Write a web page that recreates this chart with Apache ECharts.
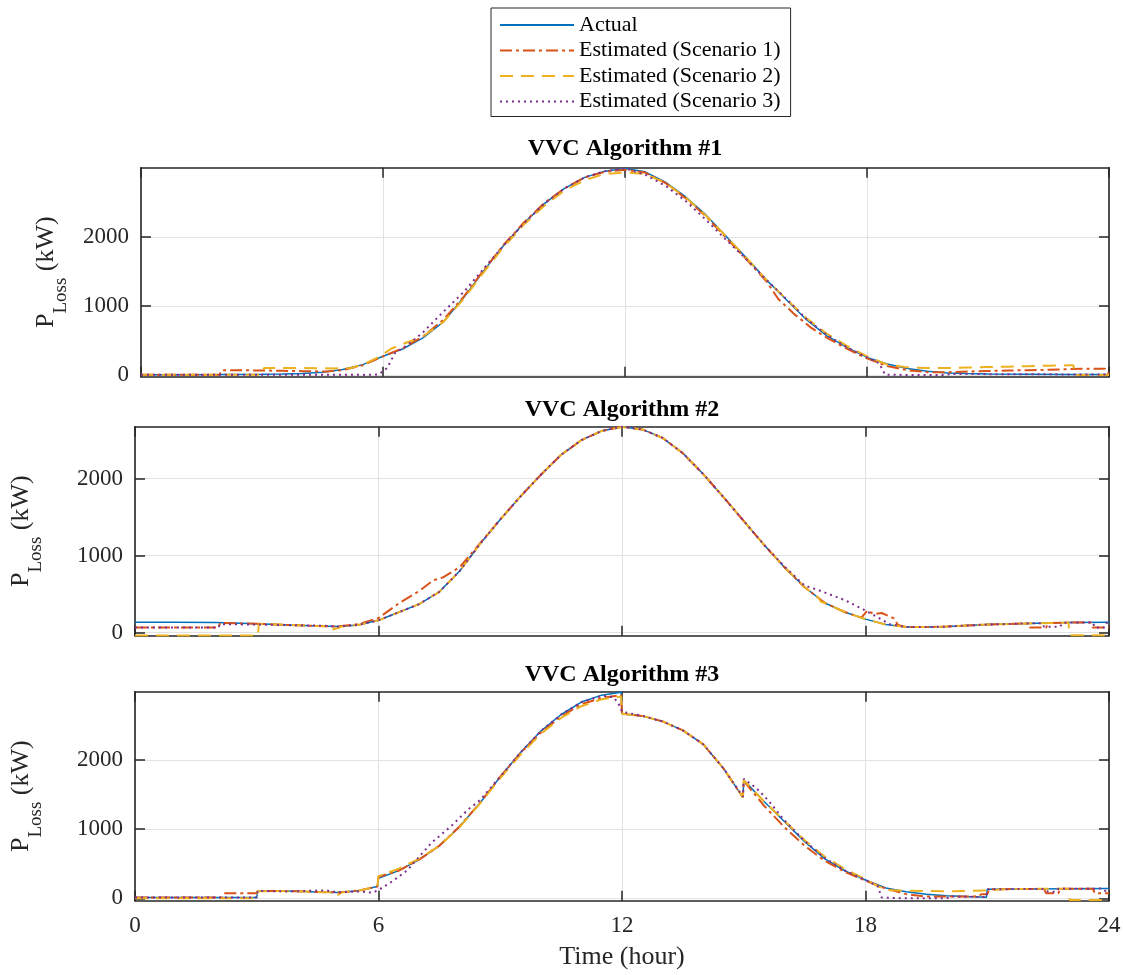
<!DOCTYPE html>
<html>
<head>
<meta charset="utf-8">
<script src="https://cdn.jsdelivr.net/npm/echarts@6/dist/echarts.min.js"></script>
<style>
html,body{margin:0;padding:0;background:#ffffff;}
#chart{width:1123px;height:975px;}
</style>
</head>
<body>
<div id="chart"></div>
<script>
// ---------------- DATA ----------------
const seriesNames = ['Actual', 'Estimated (Scenario 1)', 'Estimated (Scenario 2)', 'Estimated (Scenario 3)'];
const panelTitles = ['VVC Algorithm #1', 'VVC Algorithm #2', 'VVC Algorithm #3'];
const xTickInterval = 6;
const yTickValues = [0, 1000, 2000];
const xAxisTitle = 'Time (hour)';

// Panel 1 : [hour, kW]
const actual1 = [[0,5],[1,5],[2,6],[3,10],[3.5,14],[4,20],[4.5,40],[5,80],[5.5,150],[6,270],[6.5,380],[7,540],[7.5,770],[8,1120],[8.5,1510],[9,1880],[9.5,2200],[10,2480],[10.5,2700],[11,2860],[11.5,2950],[12,2990],[12.5,2940],[13,2790],[13.5,2580],[14,2320],[14.5,2010],[15,1700],[15.5,1380],[16,1090],[16.5,800],[17,570],[17.5,400],[18,255],[18.5,160],[19,95],[19.5,55],[20,30],[20.5,20],[21,14],[22,10],[23,8],[24,8]];
const scen1_1 = [[0,5],[1.95,5],[2,70],[3,65],[3.5,60],[4,55],[4.6,50],[5,70],[5.5,140],[6,270],[6.5,390],[7,560],[7.5,800],[8,1130],[8.5,1520],[9,1890],[9.5,2210],[10,2490],[10.5,2700],[11,2860],[11.5,2940],[12,2970],[12.5,2930],[13,2780],[13.5,2560],[14,2300],[14.5,1990],[15,1680],[15.5,1360],[15.8,1100],[16.2,880],[16.6,690],[17,540],[17.5,380],[18,240],[18.5,130],[19,70],[19.5,40],[20,40],[20.5,50],[21,58],[21.5,65],[22,70],[22.5,75],[23,85],[23.5,90],[23.9,90],[24,10]];
const scen2_1 = [[0,5],[3,5],[3.05,100],[4,100],[4.8,95],[5.2,100],[5.5,150],[5.9,260],[6.2,380],[6.5,450],[7,560],[7.5,770],[8,1100],[8.5,1490],[9,1860],[9.5,2180],[10,2450],[10.5,2670],[11,2820],[11.5,2910],[12,2930],[12.5,2910],[13,2780],[13.5,2570],[14,2310],[14.5,2010],[15,1700],[15.5,1380],[16,1100],[16.5,820],[17,600],[17.5,420],[18,270],[18.5,150],[19,110],[19.5,100],[20,100],[20.5,108],[21,115],[21.5,120],[22,128],[22.5,135],[23,140],[23.12,140],[23.15,0],[24,0]];
const scen3_1 = [[0,5],[5.4,5],[5.6,0],[5.9,10],[6.1,100],[6.3,320],[6.6,430],[7,620],[7.3,800],[7.7,1030],[8,1200],[8.5,1540],[9,1880],[9.5,2200],[10,2480],[10.5,2700],[11,2860],[11.5,2950],[12,2990],[12.5,2900],[13,2740],[13.5,2520],[14,2250],[14.5,1960],[15,1680],[15.5,1380],[16,1100],[16.5,810],[17,580],[17.5,400],[18,255],[18.3,170],[18.45,5],[19,0],[19.9,0],[20.1,15],[21,12],[22,10],[23,8],[24,8]];

// Panel 2
const actual2 = [[0,135],[1,135],[2,130],[3,115],[4,95],[4.5,85],[5,80],[5.5,100],[6,160],[6.5,265],[7,370],[7.5,530],[8,800],[8.5,1150],[9,1470],[9.5,1770],[10,2050],[10.5,2310],[11,2500],[11.5,2620],[12,2675],[12.5,2640],[13,2530],[13.5,2330],[14,2060],[14.5,1760],[15,1450],[15.5,1140],[16,850],[16.5,590],[17,385],[17.5,265],[18,175],[18.5,105],[19,72],[19.5,72],[20,78],[20.5,92],[21,105],[21.5,112],[22,120],[23,130],[24,135]];
const scen1_2 = [[0,65],[2.05,65],[2.1,125],[3,115],[4,95],[4.5,85],[5,80],[5.5,110],[6,190],[6.5,380],[7,540],[7.35,680],[7.6,720],[8,850],[8.5,1160],[9,1470],[9.5,1770],[10,2050],[10.5,2310],[11,2500],[11.5,2620],[12,2675],[12.5,2640],[13,2530],[13.5,2330],[14,2060],[14.5,1760],[15,1450],[15.5,1140],[16,850],[16.5,590],[17,385],[17.5,265],[17.9,195],[18.05,290],[18.2,240],[18.4,255],[18.7,185],[18.8,100],[19,72],[19.5,72],[20,78],[20.5,92],[21,105],[21.5,112],[22,120],[22.05,65],[22.45,65],[22.5,125],[23,130],[23.55,132],[23.6,65],[24,65]];
const scen2_2 = [[0,-38],[3.03,-38],[3.05,115],[4,95],[4.5,85],[4.8,80],[4.85,40],[5,60],[5.1,80],[5.5,100],[6,160],[6.5,265],[7,370],[7.5,530],[8,800],[8.5,1150],[9,1470],[9.5,1770],[10,2050],[10.5,2310],[11,2500],[11.5,2620],[12,2670],[12.5,2640],[13,2530],[13.5,2330],[14,2060],[14.5,1760],[15,1450],[15.5,1140],[16,850],[16.5,590],[16.85,450],[16.9,400],[17,385],[17.5,265],[18,175],[18.5,105],[19,72],[19.5,72],[20,78],[20.5,92],[21,105],[21.5,112],[22,120],[23,130],[23.03,-35],[24,-35]];
const scen3_2 = [[0,65],[2.05,65],[2.1,110],[3,105],[4,95],[4.6,90],[5,80],[5.5,100],[6,160],[6.5,265],[7,370],[7.5,530],[8,800],[8.5,1150],[9,1470],[9.5,1770],[10,2050],[10.5,2310],[11,2500],[11.5,2620],[12,2675],[12.5,2640],[13,2530],[13.5,2330],[14,2060],[14.5,1760],[15,1450],[15.5,1140],[16,860],[16.5,610],[16.8,560],[17.1,500],[17.5,420],[17.95,300],[18.3,200],[18.6,110],[19,72],[19.5,72],[20,78],[20.5,92],[21,105],[21.5,112],[22,120],[22.35,122],[22.4,75],[22.8,78],[22.85,126],[23,130],[23.6,132],[23.65,65],[23.9,65],[23.95,133],[24,135]];

// Panel 3
const actual3 = [[0,10],[3,10],[3.02,105],[3.5,105],[4,100],[4.5,90],[5,85],[5.5,110],[5.97,170],[6,290],[6.5,400],[7,560],[7.5,760],[8,1040],[8.5,1380],[9,1760],[9.5,2110],[10,2420],[10.5,2660],[11,2840],[11.5,2940],[11.98,2982],[12,2670],[12.5,2640],[13,2560],[13.5,2430],[14,2230],[14.5,1880],[14.98,1460],[15,1710],[15.5,1400],[16,1110],[16.5,820],[17,570],[17.5,395],[18,265],[18.5,150],[19,95],[19.5,60],[20,38],[20.5,25],[20.98,15],[21,130],[22,135],[23,138],[24,140]];
const scen1_3 = [[0,10],[2.15,10],[2.2,72],[3,72],[3.02,105],[3.5,105],[4,100],[4.5,90],[5,85],[5.5,110],[5.97,170],[6,310],[6.5,400],[7,560],[7.5,760],[8,1040],[8.5,1380],[9,1760],[9.5,2100],[10,2400],[10.5,2630],[11,2810],[11.5,2900],[11.98,2940],[12,2670],[12.5,2640],[13,2560],[13.5,2430],[14,2230],[14.5,1880],[14.98,1460],[15,1700],[15.5,1340],[16,1030],[16.5,760],[17,540],[17.5,380],[18,255],[18.5,140],[19,60],[19.5,25],[20,25],[20.5,25],[20.8,30],[20.85,60],[21,60],[21.05,130],[22,135],[22.4,136],[22.45,72],[22.75,72],[22.8,137],[23,138],[23.6,139],[23.65,72],[24,72]];
const scen2_3 = [[0,0],[3,0],[3.02,100],[3.5,105],[4,100],[4.5,90],[4.8,88],[4.85,45],[5,50],[5.1,85],[5.5,110],[5.97,170],[6,320],[6.5,430],[7,570],[7.5,760],[8,1030],[8.5,1370],[9,1740],[9.5,2080],[10,2380],[10.5,2610],[11,2780],[11.5,2880],[11.98,2920],[12,2670],[12.5,2640],[13,2560],[13.5,2430],[14,2230],[14.5,1880],[14.98,1460],[15,1710],[15.5,1400],[16,1120],[16.5,840],[17,600],[17.5,420],[18,275],[18.3,175],[18.6,115],[19,110],[19.5,105],[20,100],[20.5,105],[21,115],[21.5,135],[22,136],[23,138],[23.03,-25],[24,-25]];
const scen3_3 = [[0,10],[3,10],[3.02,105],[4,100],[4.4,110],[4.7,115],[5,85],[5.5,100],[5.85,80],[6,120],[6.3,230],[6.7,400],[7,600],[7.3,800],[7.8,1050],[8.2,1280],[8.5,1420],[9,1760],[9.5,2110],[10,2420],[10.5,2660],[11,2840],[11.5,2930],[11.8,2910],[11.95,2780],[12,2700],[12.5,2640],[13,2560],[13.5,2430],[14,2230],[14.5,1880],[14.98,1470],[15,1730],[15.3,1600],[15.6,1420],[16,1130],[16.5,830],[17,580],[17.5,400],[18,265],[18.3,175],[18.4,10],[19,0],[20,0],[20.1,25],[20.98,18],[21,130],[22,135],[22.4,136],[22.5,95],[22.7,95],[22.75,137],[23,138],[23.8,140],[23.85,110],[24,110]];

const panelData = [
  [actual1, scen1_1, scen2_1, scen3_1],
  [actual2, scen1_2, scen2_2, scen3_2],
  [actual3, scen1_3, scen2_3, scen3_3]
];
const yRanges = [[-25, 3000], [-40, 2675], [-35, 2990]];

// ---------------- STYLE ----------------
const FONT = '"Liberation Serif", "Times New Roman", serif';
const INK = '#262626';
const GRIDC = '#e2e2e2';
const colors = ['#0072BD', '#D95319', '#EDB120', '#7E2F8E'];
const widths = [1.5, 2, 2, 2];
const dashes = ['solid', [12, 4, 3, 4], [13, 8], [2, 4]];
const gridBoxes = [
  {left: 141, right: 14, top: 167.7, height: 209, containLabel: false, outerBoundsMode: 'none'},
  {left: 135, right: 14, top: 426.7, height: 209, containLabel: false, outerBoundsMode: 'none'},
  {left: 135, right: 14, top: 691.7, height: 209, containLabel: false, outerBoundsMode: 'none'}
];
const titleCenters = [625, 622, 622];
const titleTops = [137, 397.5, 663];
const yNameGaps = [70, 89, 89];

const lineAxis = {show: true, onZero: false, lineStyle: {color: INK, width: 1.6}};
const tickStyle = {color: INK, width: 1.5};
const plainNumber = v => String(v);

const xAxes = [], yAxes = [], series = [], titles = [];
for (let i = 0; i < 3; i++) {
  xAxes.push({
    type: 'value', gridIndex: i, min: 0, max: 24, interval: xTickInterval, position: 'bottom',
    axisLine: lineAxis,
    axisTick: {show: true, inside: true, length: 10, lineStyle: tickStyle},
    axisLabel: {show: i === 2, fontFamily: FONT, fontSize: 23, color: INK, margin: 14, formatter: plainNumber},
    splitLine: {show: true, lineStyle: {color: GRIDC, width: 1}},
    name: i === 2 ? xAxisTitle : '', nameLocation: 'middle', nameGap: 43,
    nameTextStyle: {fontFamily: FONT, fontSize: 26, color: INK}
  });
}
for (let i = 0; i < 3; i++) {
  xAxes.push({
    type: 'value', gridIndex: i, min: 0, max: 24, interval: xTickInterval, position: 'top',
    axisLine: lineAxis,
    axisTick: {show: true, inside: true, length: 10, lineStyle: tickStyle},
    axisLabel: {show: false}, splitLine: {show: false}
  });
}
for (let i = 0; i < 3; i++) {
  yAxes.push({
    type: 'value', gridIndex: i, min: yRanges[i][0], max: yRanges[i][1], position: 'left',
    axisLine: lineAxis,
    axisTick: {show: true, inside: true, length: 10, lineStyle: tickStyle, customValues: yTickValues},
    axisLabel: {show: true, fontFamily: FONT, fontSize: 23, color: INK, margin: 12, customValues: yTickValues, formatter: plainNumber},
    splitLine: {show: true, lineStyle: {color: GRIDC, width: 1}},
    name: '{p|P}{s|Loss}{p| (kW)}', nameLocation: 'middle', nameGap: yNameGaps[i],
    nameTextStyle: {
      fontFamily: FONT, color: INK,
      rich: {
        p: {fontFamily: FONT, fontSize: 26, verticalAlign: 'bottom', padding: [0, 0, 12, 0], color: INK},
        s: {fontFamily: FONT, fontSize: 19, verticalAlign: 'bottom', color: INK}
      }
    }
  });
}
for (let i = 0; i < 3; i++) {
  yAxes.push({
    type: 'value', gridIndex: i, min: yRanges[i][0], max: yRanges[i][1], position: 'right',
    axisLine: lineAxis,
    axisTick: {show: true, inside: true, length: 10, lineStyle: tickStyle, customValues: yTickValues},
    axisLabel: {show: false, customValues: yTickValues}, splitLine: {show: false}
  });
}
for (let i = 0; i < 3; i++) {
  for (let k = 0; k < 4; k++) {
    series.push({
      type: 'line', name: seriesNames[k], xAxisIndex: i, yAxisIndex: i,
      data: panelData[i][k], symbol: 'none', showSymbol: false, smooth: false,
      clip: true, z: 2 + k,
      lineStyle: {color: colors[k], width: widths[k], type: dashes[k]},
      itemStyle: {color: colors[k]}
    });
  }
  titles.push({
    text: panelTitles[i], left: titleCenters[i], top: titleTops[i], textAlign: 'center', padding: 0,
    textStyle: {fontFamily: FONT, fontWeight: 'bold', fontSize: 24, color: '#000'}
  });
}

const option = {
  animation: false,
  backgroundColor: '#ffffff',
  title: titles,
  legend: {
    data: seriesNames, orient: 'vertical', left: 491, top: 8,
    padding: [5, 10, 3, 8], itemGap: 1.5, itemWidth: 74, itemHeight: 14,
    borderColor: INK, borderWidth: 1, backgroundColor: '#ffffff', borderRadius: 0,
    itemStyle: {opacity: 0},
    textStyle: {fontFamily: FONT, fontSize: 22, color: '#000', lineHeight: 24}
  },
  grid: gridBoxes,
  xAxis: xAxes,
  yAxis: yAxes,
  series: series
};

const chart = echarts.init(document.getElementById('chart'), null, {renderer: 'canvas'});
chart.setOption(option);
</script>
</body>
</html>
